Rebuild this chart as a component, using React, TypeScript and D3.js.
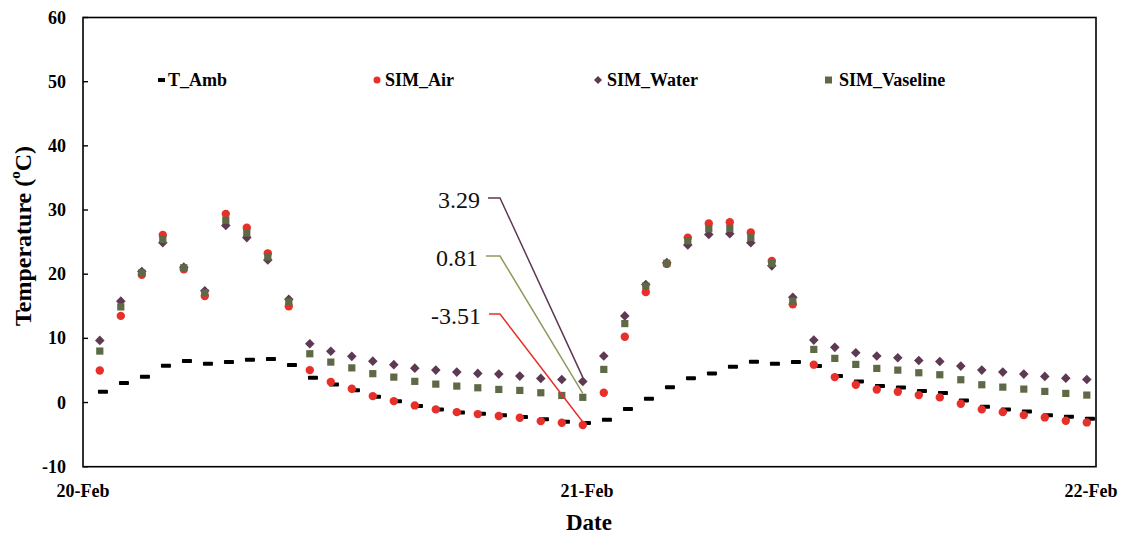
import React from "react";
import * as d3 from "d3";

const tAmb = [1.68, 3.03, 4.0, 5.73, 6.46, 6.04, 6.3, 6.67, 6.77, 5.84, 3.85, 2.8, 1.9, 0.9, 0.2, -0.55, -1.07, -1.55, -1.75, -2.0, -2.27, -2.6, -3.0, -3.2,
  -2.7, -1.0, 0.6, 2.4, 3.8, 4.54, 5.58, 6.35, 6.04, 6.3, 5.68, 4.12, 3.29, 2.56, 2.35, 1.78, 1.47, 0.33, -0.66, -1.07, -1.39, -2.0, -2.2, -2.53];
const simAir = [5.0, 13.5, 19.9, 26.1, 20.75, 16.6, 29.4, 27.25, 23.25, 15.0, 5.05, 3.2, 2.15, 1.0, 0.22, -0.45, -1.07, -1.5, -1.8, -2.1, -2.37, -2.9, -3.15, -3.51,
  1.52, 10.25, 17.2, 21.6, 25.7, 27.9, 28.1, 26.5, 22.05, 15.3, 5.9, 3.96, 2.77, 2.04, 1.68, 1.16, 0.8, -0.19, -1.07, -1.5, -1.96, -2.32, -2.84, -3.1];
const simWater = [9.68, 15.8, 20.4, 24.9, 21.1, 17.4, 27.6, 25.7, 22.2, 16.1, 9.16, 8.0, 7.2, 6.45, 5.9, 5.36, 5.05, 4.74, 4.54, 4.43, 4.12, 3.76, 3.6, 3.29,
  7.24, 13.5, 18.4, 21.8, 24.55, 26.2, 26.3, 24.9, 21.3, 16.4, 9.73, 8.6, 7.76, 7.24, 6.98, 6.56, 6.4, 5.68, 5.05, 4.74, 4.43, 4.07, 3.8, 3.6];
const simVaseline = [8.02, 14.9, 20.2, 25.4, 21.0, 17.1, 28.4, 26.4, 22.7, 15.7, 7.6, 6.3, 5.4, 4.5, 3.96, 3.3, 2.87, 2.56, 2.3, 2.04, 1.89, 1.52, 1.1, 0.81,
  5.16, 12.3, 18.15, 21.7, 25.2, 27.1, 27.15, 25.7, 21.7, 15.8, 8.28, 6.88, 5.94, 5.32, 5.05, 4.64, 4.33, 3.55, 2.77, 2.4, 2.09, 1.73, 1.42, 1.16];

const dateTicks = [0, 24, 48];
const dateLabels = ["20-Feb", "21-Feb", "22-Feb"];
const yTicks = [-10, 0, 10, 20, 30, 40, 50, 60];
const annotations = [
  { label: "3.29", series: "water", index: 23, value: 3.29 },
  { label: "0.81", series: "vaseline", index: 23, value: 0.81 },
  { label: "-3.51", series: "air", index: 23, value: -3.51 },
];

const SIM_OFFSET = 0.8; // hours after start for simulated samples
const AMB_OFFSET = 0.95;

const RED = "#E8302A";
const PURPLE = "#5D3953";
const OLIVE = "#5E6A47";
const OLIVE_LINE = "#8C9C5D";
const FONT = "'Liberation Serif', 'Times New Roman', serif";

const diamondPath = (r: number) => `M0,${-r}L${r},0L0,${r}L${-r},0Z`;

export default function App() {
  const W = 1127, H = 538;
  const left = 83, right = 1096, top = 17.5, bottom = 466.7;
  const x = d3.scaleLinear().domain([0, 48]).range([83, 1091]);
  const y = d3.scaleLinear().domain([-10, 60]).range([bottom, top]);
  const hoursSim = simAir.map((_, i) => i + SIM_OFFSET);
  const hoursAmb = tAmb.map((_, i) => i + AMB_OFFSET);

  const annLayout = [
    { tx: 480, ty: 200, color: PURPLE, endDy: -4 },
    { tx: 478, ty: 258, color: OLIVE_LINE, endDy: -4 },
    { tx: 481, ty: 316, color: RED, endDy: -3 },
  ];

  return (
    <svg width={W} height={H} style={{ position: "absolute", left: 0, top: 0, background: "#fff" }} fontFamily={FONT}>
      <rect x={0} y={0} width={W} height={H} fill="#ffffff" />
      <rect x={left} y={top} width={right - left} height={bottom - top} fill="none" stroke="#000" strokeWidth={1.6} />
      {yTicks.map((t) => (
        <g key={t}>
          <line x1={left} x2={left + 5} y1={y(t)} y2={y(t)} stroke="#000" strokeWidth={1.4} />
          <text x={66} y={y(t)} textAnchor="end" dominantBaseline="central" fontWeight="bold" fontSize={18}>{t}</text>
        </g>
      ))}
      {dateTicks.map((t, i) => (
        <text key={t} x={x(t)} y={491} textAnchor="middle" dominantBaseline="central" fontWeight="bold" fontSize={18}>{dateLabels[i]}</text>
      ))}
      <text x={589} y={522} textAnchor="middle" dominantBaseline="central" fontWeight="bold" fontSize={23}>Date</text>
      <text transform={`translate(23,236) rotate(-90)`} textAnchor="middle" dominantBaseline="central" fontWeight="bold" fontSize={24}>
        Temperature (<tspan fontSize={15} dy={-8}>o</tspan><tspan dy={8}>C)</tspan>
      </text>

      {tAmb.map((v, i) => (
        <rect key={"a" + i} x={x(hoursAmb[i]) - 5} y={y(v) - 2} width={10} height={4} fill="#000" rx={0.8} />
      ))}
      {simAir.map((v, i) => (
        <circle key={"r" + i} cx={x(hoursSim[i])} cy={y(v)} r={4.2} fill={RED} />
      ))}
      {simWater.map((v, i) => (
        <path key={"w" + i} d={diamondPath(4.8)} transform={`translate(${x(hoursSim[i])},${y(v)})`} fill={PURPLE} />
      ))}
      {simVaseline.map((v, i) => (
        <rect key={"v" + i} x={x(hoursSim[i]) - 3.6} y={y(v) - 3.6} width={7.2} height={7.2} fill={OLIVE} />
      ))}

      {annotations.map((a, k) => {
        const L = annLayout[k];
        const ex = x(hoursSim[a.index]);
        const ey = y(a.value) + L.endDy;
        return (
          <g key={a.label}>
            <text x={L.tx} y={L.ty} textAnchor="end" dominantBaseline="central" fontSize={24} fill="#111">{a.label}</text>
            <polyline points={`${L.tx + 8},${L.ty - 2} ${500},${L.ty - 2} ${ex},${ey}`} fill="none" stroke={L.color} strokeWidth={1.5} />
          </g>
        );
      })}

      <g fontWeight="bold" fontSize={18}>
        <rect x={158} y={78} width={7} height={4} fill="#000" />
        <text x={168} y={80} dominantBaseline="central">T_Amb</text>
        <circle cx={377} cy={80} r={3.5} fill={RED} />
        <text x={385} y={80} dominantBaseline="central">SIM_Air</text>
        <path d={diamondPath(4)} transform="translate(598,80)" fill={PURPLE} />
        <text x={607} y={80} dominantBaseline="central">SIM_Water</text>
        <rect x={825} y={76.5} width={7} height={7} fill={OLIVE} />
        <text x={839} y={80} dominantBaseline="central">SIM_Vaseline</text>
      </g>
    </svg>
  );
}
